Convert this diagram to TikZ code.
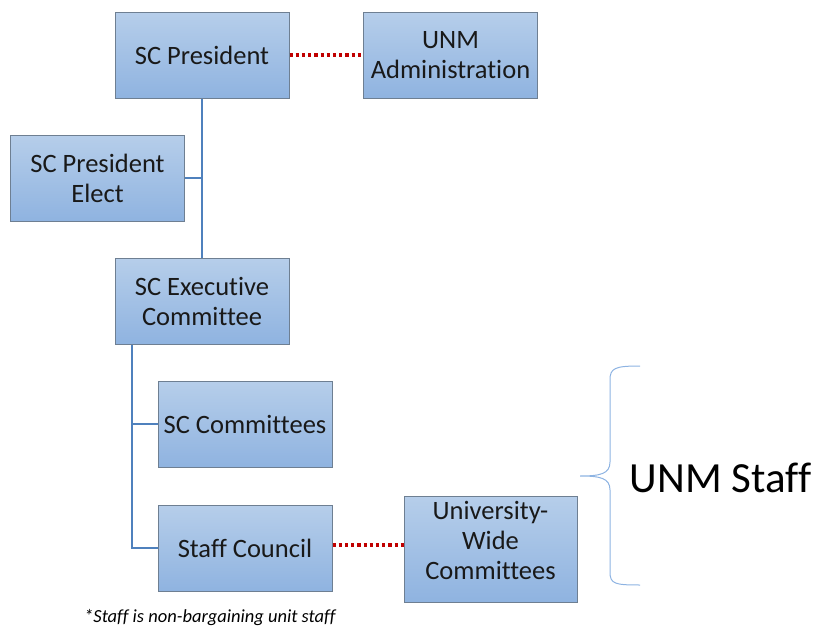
\documentclass[tikz,border=0pt]{standalone}
\usepackage{fontspec}
\setmainfont[Ligatures=NoCommon]{Carlito}
\definecolor{boxtop}{HTML}{B6CEEA}
\definecolor{boxbot}{HTML}{8FB3E0}
\definecolor{boxline}{HTML}{6E7F92}
\definecolor{conn}{HTML}{4F81BD}
\definecolor{dotred}{HTML}{C00000}
\definecolor{bracec}{HTML}{8DB3E2}
\begin{document}
\begin{tikzpicture}[x=1pt,y=-1pt,
  boxfont/.style={font=\fontsize{26.5}{30}\selectfont, text=black!90},
  orgbox/.style={draw=boxline, line width=1pt, top color=boxtop, bottom color=boxbot,
    minimum width=174pt, minimum height=86pt, inner sep=0pt, align=center, boxfont},
  tree/.style={draw=conn, line width=1.6pt},
  reddot/.style={draw=dotred, line width=3.2pt, dash pattern=on 3.2pt off 3pt}]
\useasboundingbox (0,0) rectangle (815,629);
\node[orgbox] (pres) at (202,55) {SC President};
\node[orgbox] (admin) at (450.5,55) {UNM\\Administration};
\node[orgbox] (elect) at (97.5,178) {SC President\\Elect};
\node[orgbox] (exec) at (202,301) {SC Executive\\Committee};
\node[orgbox] (comm) at (245,424) {SC Committees};
\node[orgbox] (staff) at (245,548) {Staff Council};
\node[orgbox, minimum width=173pt, minimum height=106pt,
  label={[yshift=9pt, align=center, boxfont]center:University-\\Wide\\Committees}] (univ) at (490.5,549) {};
\coordinate (jA) at (202,178);
\coordinate (jB) at (132,424);
\coordinate (jC) at (132,548);
\draw[tree] (pres.south) -- (exec.north);
\draw[tree] (elect.east) -- (jA);
\draw[tree] (exec.south -| jB) -- (jC) -- (staff.west);
\draw[tree] (jB) -- (comm.west);
\draw[reddot] (pres.east) -- (admin.west);
\draw[reddot] ([yshift=3pt]staff.east) -- ([yshift=3pt]staff.east -| univ.west);
\coordinate (brtop) at (640,366);
\coordinate (brbot) at (640,585);
\coordinate (brtip) at (580,476);
\draw[draw=bracec, line width=1pt] (brtop) .. controls (615,366) and (610,368) .. (610,380)
  -- (610,462) .. controls (610,474) and (600,476) .. (brtip)
  .. controls (600,476) and (610,478) .. (610,490)
  -- (610,572) .. controls (610,584) and (615,585) .. (brbot);
\node[font=\fontsize{43}{48}\selectfont] (unmstaff) at (720.5,478) {UNM Staff};
\node[font=\fontsize{18.5}{22}\selectfont\itshape, anchor=west, inner sep=1pt] (note) at (83,618) {*Staff is non-bargaining unit staff};
\end{tikzpicture}
\end{document}
